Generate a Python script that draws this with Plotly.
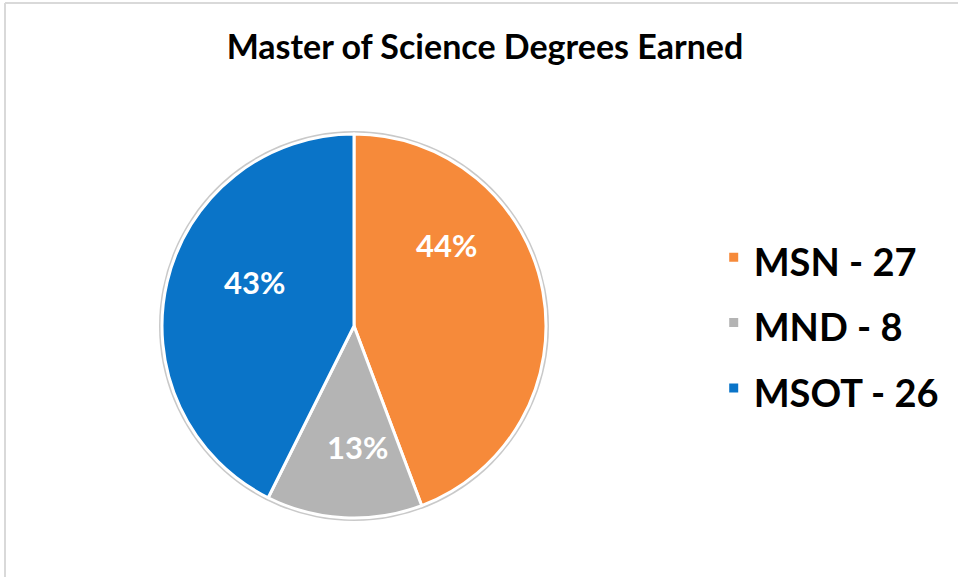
import plotly.graph_objects as go

programas = ["MSN", "MND", "MSOT"]
graduados = [27, 8, 26]
cores = ["#F68A3A", "#B4B4B4", "#0A74C8"]

W, H = 958, 577
cx, cy, R = 354, 326, 192  # centro e raio da pizza em px


def dominio(raio):
    return dict(
        x=[(cx - raio) / W, (cx + raio) / W],
        y=[(H - cy - raio) / H, (H - cy + raio) / H],
    )


total = sum(graduados)
# o span deixa o texto menor que a fonte da legenda -> mais espaço entre itens
rotulos = [
    f'<span style="font-size:38px">{p} - {n}</span>' for p, n in zip(programas, graduados)
]
percentuais = [f"<b>{round(100 * n / total)}%</b>" for n in graduados]

# posição dos rótulos de % (px), como no original do Excel
pos_rotulos = [(446, 245), (357, 468), (222, 282)]

fig = go.Figure()

# sombra cinza em volta da pizza
fig.add_trace(
    go.Pie(
        values=[1],
        marker=dict(colors=["#C9C9C9"], line=dict(width=0)),
        textinfo="none",
        hoverinfo="skip",
        showlegend=False,
        domain=dominio(R + 3),
    )
)

fig.add_trace(
    go.Pie(
        labels=rotulos,
        values=graduados,
        sort=False,
        direction="clockwise",
        rotation=0,
        marker=dict(colors=cores, line=dict(color="white", width=3)),
        textinfo="none",
        hoverinfo="label+value+percent",
        domain=dominio(R),
    )
)

fig.update_layout(
    width=W,
    height=H,
    margin=dict(t=0, b=0, l=0, r=0),
    paper_bgcolor="white",
    title=dict(
        text="<b>Master of Science Degrees Earned</b>",
        x=485 / W, xanchor="center", y=1 - 47 / H, yanchor="middle",
        font=dict(family="Lato", size=34, color="black"),
    ),
    showlegend=True,
    legend=dict(
        x=0.745, y=1 - 323 / H, xanchor="left", yanchor="middle",
        font=dict(family="Lato", size=48, color="black", weight="bold"),
        itemclick=False,
    ),
    annotations=[
        dict(
            text=t, x=px / W, y=1 - py / H, xref="paper", yref="paper",
            showarrow=False, font=dict(family="Lato", size=31, color="white"),
        )
        for t, (px, py) in zip(percentuais, pos_rotulos)
    ],
    shapes=[
        dict(type="line", xref="paper", yref="paper", x0=5 / W, x1=1, y0=1 - 3 / H, y1=1 - 3 / H,
             line=dict(color="#D9D9D9", width=2)),
        dict(type="line", xref="paper", yref="paper", x0=5 / W, x1=5 / W, y0=0, y1=1 - 3 / H,
             line=dict(color="#D9D9D9", width=2)),
    ],
)

fig.write_html(
    "out.html",
    config={"displayModeBar": False},
    post_script="document.body.style.margin='0';",
)
